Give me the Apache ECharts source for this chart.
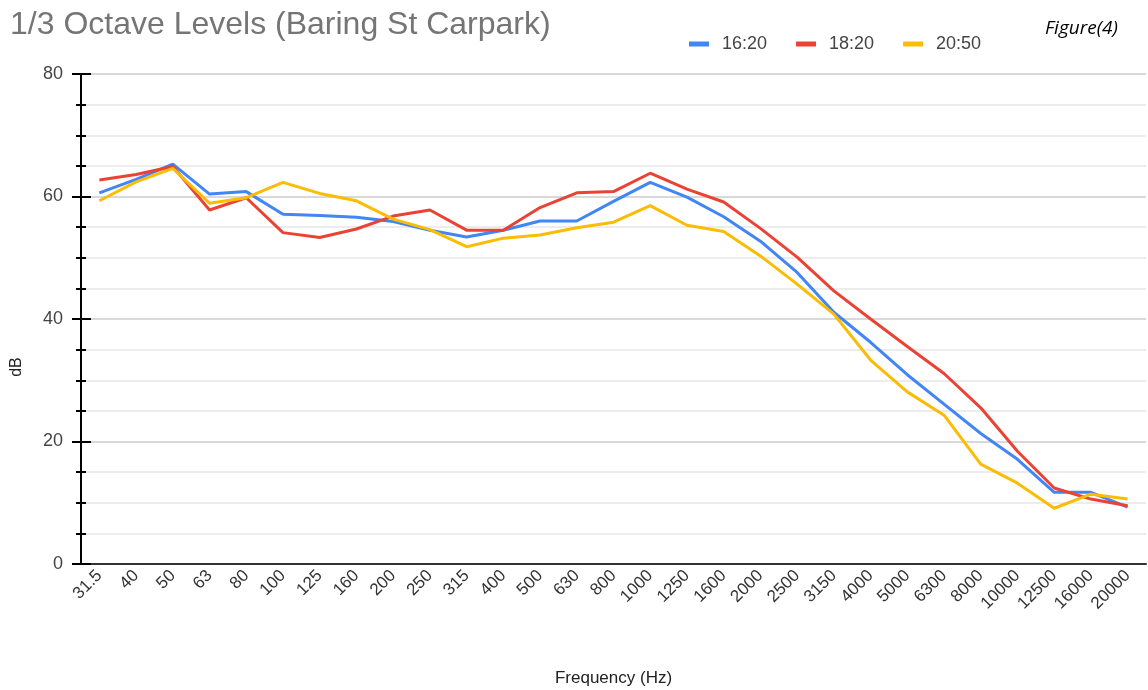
<!DOCTYPE html>
<html>
<head>
<meta charset="utf-8">
<script src="https://cdn.jsdelivr.net/npm/echarts@6/dist/echarts.min.js"></script>
<style>
html,body{margin:0;padding:0;background:#fff;}
#chart{width:1148px;height:690px;}
</style>
</head>
<body>
<div id="chart"></div>
<script>
const categories = ['31.5','40','50','63','80','100','125','160','200','250','315','400','500','630','800','1000','1250','1600','2000','2500','3150','4000','5000','6300','8000','10000','12500','16000','20000'];
const s1620 = [60.6,62.8,65.3,60.4,60.8,57.1,56.9,56.6,55.9,54.5,53.4,54.5,56.0,56.0,59.2,62.3,59.9,56.7,52.7,47.6,41.1,36.2,30.9,26.1,21.3,17.1,11.7,11.7,9.3];
const s1820 = [62.7,63.6,64.9,57.8,59.8,54.1,53.3,54.7,56.8,57.8,54.5,54.5,58.2,60.6,60.8,63.8,61.2,59.1,54.8,50.1,44.6,40.0,35.5,31.1,25.5,18.4,12.4,10.6,9.5];
const s2050 = [59.3,62.4,64.6,58.9,59.8,62.3,60.5,59.3,56.3,54.6,51.8,53.2,53.7,54.9,55.8,58.5,55.3,54.3,50.3,45.7,40.8,33.3,28.1,24.3,16.3,13.2,9.1,11.4,10.6];
const seriesNames = ['16:20','18:20','20:50'];
const seriesColors = ['#4285F4','#EA4335','#FBBC04'];
const yTicks = {min:0, max:80, interval:20};

const chart = echarts.init(document.getElementById('chart'), null, {renderer:'canvas'});
const font = 'Arial, "Liberation Sans", sans-serif';
const mk = (name, data, color) => ({
  name, type:'line', data, symbol:'none', smooth:false,
  lineStyle:{width:3, color}, itemStyle:{color}, z:3
});
chart.setOption({
  animation:false,
  backgroundColor:'#fff',
  title:{
    text:'1/3 Octave Levels (Baring St Carpark)',
    left:5, top:4,
    textStyle:{fontFamily:font, fontSize:32, fontWeight:'normal', color:'#757575'}
  },
  legend:{
    left:684, top:30,
    icon:'rect', itemWidth:20, itemHeight:5, itemGap:29,
    data:seriesNames,
    textStyle:{fontFamily:font, fontSize:18, color:'#444', padding:[0,0,0,8]}
  },
  graphic:[
    {type:'text', left:1045, top:19, style:{text:'Figure(4)', font:'italic 19px "Open Sans", sans-serif', fill:'#000'}},
    {type:'text', x:17, y:367, rotation:Math.PI/2, style:{text:'dB', font:'16px '+font, fill:'#222', align:'center', verticalAlign:'middle'}}
  ],
  grid:{left:81, right:2, top:74, bottom:126, outerBoundsMode:'none', containLabel:false},
  xAxis:{
    type:'category', data:categories, boundaryGap:true,
    axisLine:{lineStyle:{color:'#333', width:2}},
    axisTick:{show:false},
    axisLabel:{rotate:45, fontFamily:font, fontSize:17, color:'#333', margin:9, interval:0},
    name:'Frequency (Hz)', nameLocation:'middle', nameGap:106,
    nameTextStyle:{fontFamily:font, fontSize:17, color:'#222'}
  },
  yAxis:[{
    type:'value', min:yTicks.min, max:yTicks.max, interval:yTicks.interval,
    axisLine:{show:true, lineStyle:{color:'#000', width:2}},
    axisTick:{show:true, length:9, lineStyle:{color:'#000', width:2}},
    minorTick:{show:true, splitNumber:4, length:5, lineStyle:{color:'#000', width:2}},
    splitLine:{show:true, lineStyle:{color:'#cccccc', width:1.5}},
    minorSplitLine:{show:true, lineStyle:{color:'#e6e6e6', width:1.5}},
    axisLabel:{fontFamily:font, fontSize:18, color:'#444', margin:18}
  },{
    type:'value', min:yTicks.min, max:yTicks.max, interval:yTicks.interval, position:'left',
    axisLine:{show:false},
    axisTick:{show:true, inside:true, length:10, lineStyle:{color:'#000', width:2}},
    minorTick:{show:true, splitNumber:4, length:5, lineStyle:{color:'#000', width:2}},
    splitLine:{show:false}, axisLabel:{show:false}
  }],
  series:[mk(seriesNames[0], s1620, seriesColors[0]), mk(seriesNames[1], s1820, seriesColors[1]), mk(seriesNames[2], s2050, seriesColors[2])]
});
</script>
</body>
</html>
